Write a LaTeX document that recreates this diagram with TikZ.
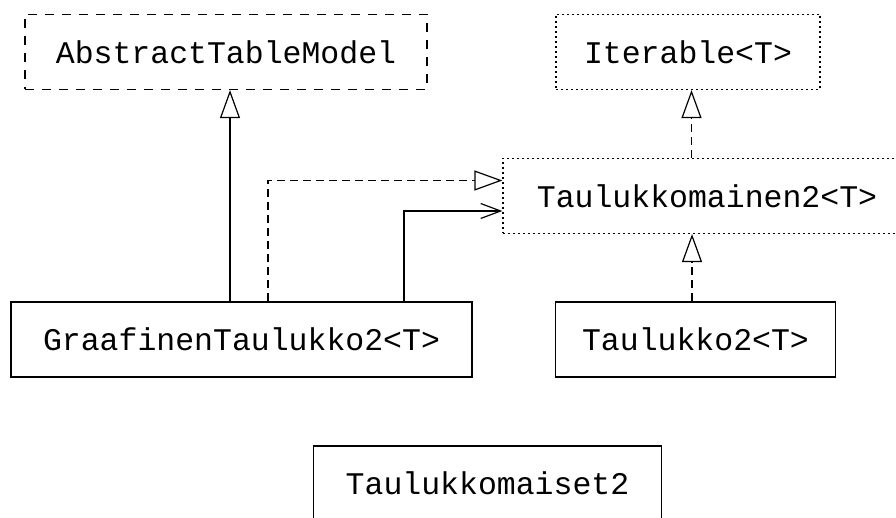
\documentclass[tikz,border=0pt]{standalone}
\usepackage{fontspec}
\setmonofont{Liberation Mono}
\usepackage{tikz}
\usetikzlibrary{arrows.meta}

\begin{document}
\begin{tikzpicture}[x=1pt, y=-1pt, line width=1.2pt,
    umlclass/.style={draw, inner sep=0pt, minimum height=75pt,
        font=\ttfamily\fontsize{31.5}{38}\selectfont},
    abstractcls/.style={umlclass, dash pattern=on 9pt off 8pt},
    interfacecls/.style={umlclass, dash pattern=on 2pt off 3pt},
    extends/.style={-{Triangle[open, length=28pt, width=20pt, fill=white]}},
    realizes/.style={extends, dash pattern=on 8pt off 5pt},
    uses/.style={-{Straight Barb[length=20pt, width=15pt]}}]
\clip (0,0) rectangle (896,518);

% Classes
\node[abstractcls, minimum width=402pt] (atm) at (226,52) {AbstractTableModel};
\node[interfacecls, minimum width=264pt] (iter) at (688,52) {Iterable<T>};
\node[interfacecls, minimum width=408pt] (tk) at (707,196) {Taulukkomainen2<T>};
\node[umlclass, minimum width=461pt] (gt) at (241.5,339.5) {GraafinenTaulukko2<T>};
\node[umlclass, minimum width=280pt] (t2) at (695.5,339.5) {Taulukko2<T>};
\node[umlclass, minimum width=348pt] (tks) at (487.5,483.5) {Taulukkomaiset2};

% Relations
\draw[extends] ([xshift=-11.5pt]gt.north) -- ([xshift=-11.5pt]gt.north |- atm.south);
\draw[realizes] ([xshift=26.5pt]gt.north) |- ([yshift=15.5pt]tk.west);
\draw[uses] ([xshift=162.5pt]gt.north) |- ([yshift=-15pt]tk.west);
\draw[realizes] ([xshift=3.5pt]iter.south |- tk.north) -- ([xshift=3.5pt]iter.south);
\draw[realizes] ([xshift=-3.5pt]t2.north) -- ([xshift=-3.5pt]t2.north |- tk.south);
\end{tikzpicture}
\end{document}
